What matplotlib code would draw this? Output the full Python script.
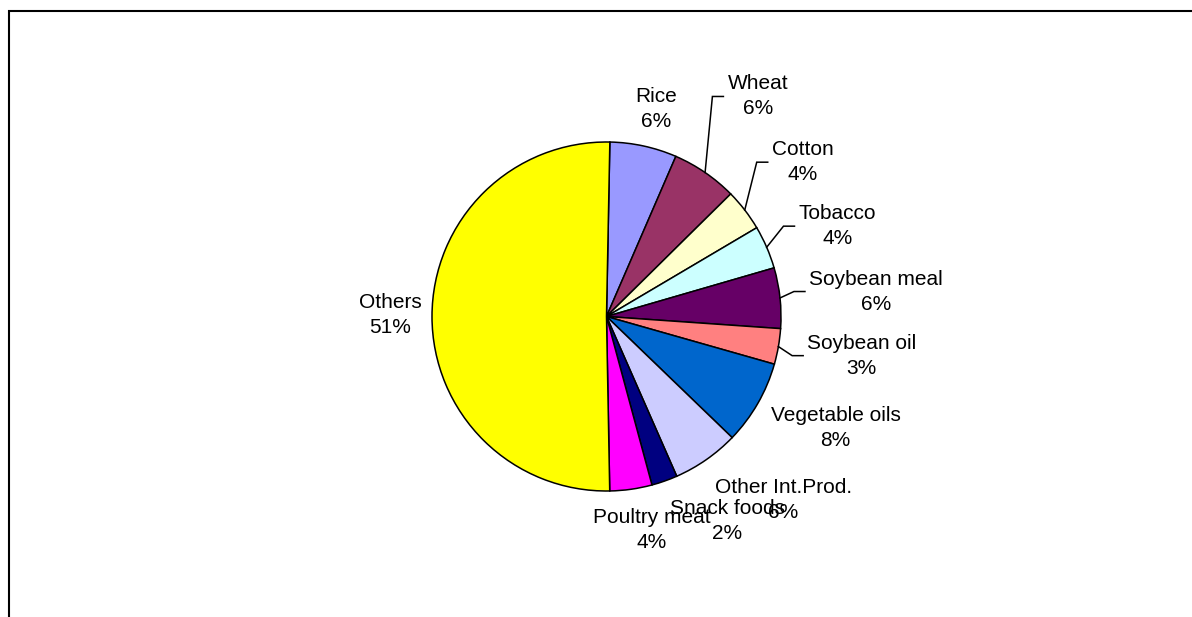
import matplotlib
matplotlib.use("Agg")
import matplotlib.pyplot as plt
from matplotlib.lines import Line2D
from matplotlib.patches import Rectangle
import numpy as np

plt.rcParams['font.family'] = ['Liberation Sans', 'DejaVu Sans']

# ---- data ----
categories = ["Rice", "Wheat", "Cotton", "Tobacco", "Soybean meal", "Soybean oil",
              "Vegetable oils", "Other Int.Prod.", "Snack foods", "Poultry meat", "Others"]
shares = [6.2, 6.1, 3.9, 4.0, 5.6, 3.3, 7.8, 6.2, 2.4, 3.9, 50.6]
colors = ["#9999FF", "#993366", "#FFFFCC", "#CCFFFF", "#660066", "#FF8080",
          "#0066CC", "#CCCCFF", "#000080", "#FF00FF", "#FFFF00"]

# ---- label layout (style): radial distance (in radii) and angular tweak (deg, clockwise) ----
label_dist = [1.22, 1.53, 1.43, 1.42, 1.55, 1.48, 1.46, 1.46, 1.36, 1.25, 1.24]
label_dtheta = [2.2, 1.2, 0.5, 3.1, 1.9, -0.1, -2.8, -7.9, -10.0, -2.7, 1.6]
leader = [False, True, True, True, True, True, False, False, False, False, False]

W, H = 1192, 617
fig = plt.figure(figsize=(W / 100, H / 100), dpi=100)
ax = fig.add_axes([0, 0, 1, 1])

start = 88.9
cx, cy, R = 606.5, H - 316.5, 174.5
wedges, _ = ax.pie(shares, colors=colors, startangle=start, counterclock=False,
                   center=(cx, cy), radius=R, frame=False,
                   wedgeprops=dict(edgecolor="black", linewidth=1.1))
ax.set_xlim(0, W)
ax.set_ylim(0, H)
ax.set_aspect('equal')
ax.set_axis_off()

texts = []
for w, name, v, d, dt, ld in zip(wedges, categories, shares, label_dist, label_dtheta, leader):
    mid = np.deg2rad((w.theta1 + w.theta2) / 2.0)  # math convention (ccw from +x)
    ang = mid - np.deg2rad(dt + (start - 90))
    tx, ty = cx + R * d * np.cos(ang), cy + R * d * np.sin(ang)
    t = ax.text(tx, ty, f"{name}\n{v:.0f}%", ha="center", va="center",
                multialignment="center", fontsize=15, linespacing=1.4, color="black")
    texts.append((t, mid, ld))

fig.canvas.draw()
renderer = fig.canvas.get_renderer()
inv = ax.transData.inverted()
for t, mid, ld in texts:
    if not ld:
        continue
    bb = t.get_window_extent(renderer)
    (x0, y0), (x1, y1) = inv.transform([(bb.x0, bb.y0), (bb.x1, bb.y1)])
    ymid = (y0 + y1) / 2.0
    ex, ey = cx + R * np.cos(mid), cy + R * np.sin(mid)
    xend = x0 - 4
    xelb = xend - 11
    ax.plot([ex, xelb, xend], [ey, ymid, ymid], color="black", linewidth=1.1,
            solid_joinstyle="miter")

# keep the right margin clean
fig.add_artist(Rectangle((0.99, 0.0), 0.02, (H - 14) / H, transform=fig.transFigure,
                         facecolor="white", edgecolor="none", zorder=50))

# chart-area frame (only top and left edges visible)
fx, fy = 8.5 / W, (H - 11) / H
fig.add_artist(Line2D([fx, fx, 1.0], [0.0, fy, fy], transform=fig.transFigure,
                      color="black", linewidth=1.5, solid_joinstyle="miter",
                      solid_capstyle="butt", zorder=60))

fig.savefig("out.png", dpi=100)
